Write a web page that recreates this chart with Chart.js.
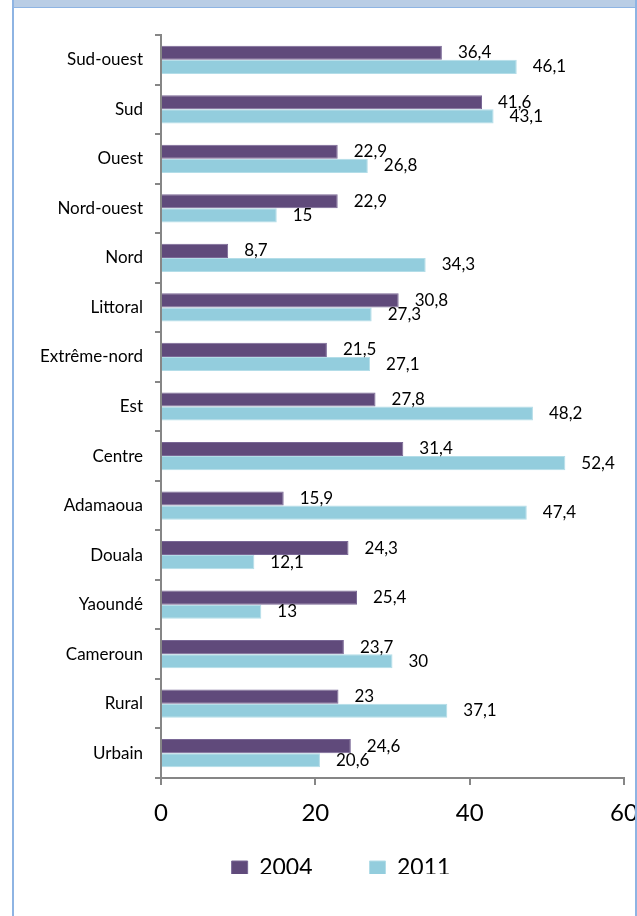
<!DOCTYPE html>
<html lang="fr">
<head>
  <meta charset="UTF-8" />
  <title>Incidence de la pauvreté par région, 2004 et 2011</title>
  <script src="https://cdn.jsdelivr.net/npm/chart.js"></script>
  <style>
    html, body {
      margin: 0;
      padding: 0;
      background: #fff;
    }
    body {
      width: 637px;
      height: 916px;
      position: relative;
      overflow: hidden;
      font-family: Lato, sans-serif;
    }
    .band {
      position: absolute;
      left: 13px;
      top: 0;
      width: 624px;
      height: 7px;
      background: #b9cde5;
      z-index: 2;
    }
    .line-top {
      position: absolute;
      left: 13px;
      top: 7px;
      width: 622px;
      height: 1px;
      background: #8eb4e3;
      z-index: 2;
    }
    .line-left, .line-right {
      position: absolute;
      top: 0;
      width: 2px;
      height: 916px;
      background: #8eb4e3;
      z-index: 2;
    }
    .line-left { left: 12px; }
    .line-right { left: 635px; }
    .wrap {
      position: absolute;
      left: 0;
      top: 0;
      width: 635px;
      height: 916px;
      overflow: hidden;
      z-index: 1;
    }
  </style>
</head>
<body>
  <div class="band"></div>
  <div class="line-top"></div>
  <div class="line-left"></div>
  <div class="line-right"></div>
  <div class="wrap">
    <canvas id="chart" width="660" height="916" style="width:660px;height:916px"></canvas>
  </div>

  <script>
    const categories = ['Sud-ouest', 'Sud', 'Ouest', 'Nord-ouest', 'Nord', 'Littoral', 'Extrême-nord',
      'Est', 'Centre', 'Adamaoua', 'Douala', 'Yaoundé', 'Cameroun', 'Rural', 'Urbain'];
    const values2004 = [36.4, 41.6, 22.9, 22.9, 8.7, 30.8, 21.5, 27.8, 31.4, 15.9, 24.3, 25.4, 23.7, 23, 24.6];
    const values2011 = [46.1, 43.1, 26.8, 15, 34.3, 27.3, 27.1, 48.2, 52.4, 47.4, 12.1, 13, 30, 37.1, 20.6];
    const xTicks = [0, 20, 40, 60];

    const axisGray = '#868686';

    // numbers written after the end of each bar, French decimal comma
    const valueLabels = {
      id: 'valueLabels',
      afterDatasetsDraw(chart) {
        const ctx = chart.ctx;
        ctx.save();
        ctx.font = '17px Lato';
        ctx.fillStyle = '#000';
        ctx.textAlign = 'left';
        ctx.textBaseline = 'middle';
        chart.data.datasets.forEach((ds, i) => {
          chart.getDatasetMeta(i).data.forEach((bar, j) => {
            const txt = String(ds.data[j]).replace('.', ',');
            ctx.fillText(txt, bar.x + 16, bar.y);
          });
        });
        ctx.restore();
      }
    };

    // the legend sits left of the plot centre, as in the source picture
    const legendPlace = {
      id: 'legendPlace',
      afterLayout(chart) {
        chart.legend.left = 58;
        chart.legend.top = 799.5;
      }
    };

    function draw() {
      Chart.defaults.font.family = 'Lato';
      Chart.defaults.color = '#000';

      new Chart(document.getElementById('chart'), {
        type: 'bar',
        data: {
          labels: categories,
          datasets: [
            {
              label: '2004',
              data: values2004,
              backgroundColor: '#604a7b',
              borderColor: '#7a6896',
              borderWidth: 1,
              categoryPercentage: 0.57,
              barPercentage: 1
            },
            {
              label: '2011',
              data: values2011,
              backgroundColor: '#93cddd',
              borderColor: '#b3dde8',
              borderWidth: 1,
              categoryPercentage: 0.57,
              barPercentage: 1
            }
          ]
        },
        options: {
          indexAxis: 'y',
          responsive: false,
          animation: false,
          layout: { padding: { left: 0, right: 36, top: 35, bottom: 42 } },
          plugins: {
            tooltip: { enabled: false },
            legend: {
              position: 'bottom',
              maxHeight: 40,
              labels: {
                boxWidth: 16,
                boxHeight: 14,
                padding: 57,
                font: { family: 'Lato', size: 23 },
                color: '#000'
              }
            }
          },
          scales: {
            x: {
              min: xTicks[0],
              max: xTicks[xTicks.length - 1],
              ticks: { stepSize: xTicks[1] - xTicks[0], font: { size: 24 }, color: '#000', padding: 14 },
              afterFit(scale) { scale.height = 56; },
              grid: { drawOnChartArea: false, drawTicks: true, tickLength: 7, color: axisGray, lineWidth: 2 },
              border: { display: true, color: axisGray, width: 2 }
            },
            y: {
              afterFit(scale) { scale.width = 161; },
              ticks: { font: { size: 17 }, color: '#000', padding: 12, autoSkip: false },
              grid: { offset: true, drawOnChartArea: false, drawTicks: true, tickLength: 6, color: axisGray, lineWidth: 2 },
              border: { display: true, color: axisGray, width: 2 }
            }
          }
        },
        plugins: [valueLabels, legendPlace]
      });
    }

    if (document.fonts && document.fonts.load) {
      document.fonts.load('16px Lato').then(draw, draw);
    } else {
      draw();
    }
  </script>
</body>
</html>
